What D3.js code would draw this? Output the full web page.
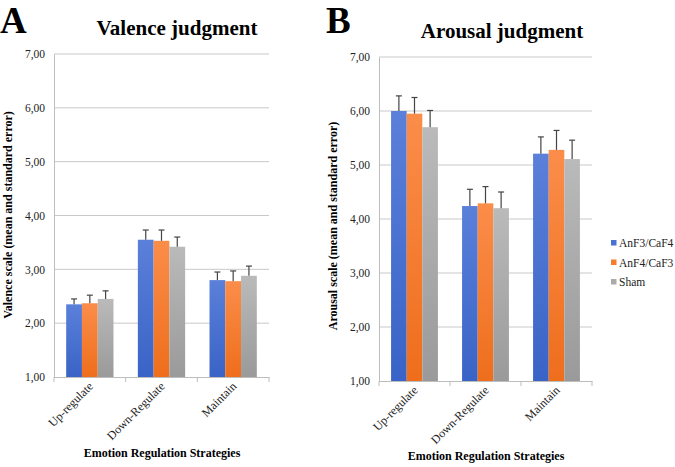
<!DOCTYPE html>
<html><head><meta charset="utf-8">
<script src="https://cdn.jsdelivr.net/npm/d3@7"></script>
<style>body{margin:0;background:#fff}svg{display:block}</style>
</head><body>
<svg id="c" width="675" height="467"></svg>
<script>
const categories = ["Up-regulate","Down-Regulate","Maintain"];
const seriesNames = ["AnF3/CaF4","AnF4/CaF3","Sham"];
const valenceMeans = [[2.35,2.37,2.45],[3.55,3.53,3.42],[2.80,2.78,2.88]];
const valenceErrTop = [[2.45,2.52,2.60],[3.73,3.73,3.60],[2.95,2.97,3.06]];
const arousalMeans = [[6.00,5.95,5.70],[4.24,4.29,4.20],[5.21,5.28,5.11]];
const arousalErrTop = [[6.28,6.25,6.01],[4.55,4.60,4.50],[5.52,5.64,5.46]];
const yTicks = [1,2,3,4,5,6,7];
const tickLabels = ["1,00","2,00","3,00","4,00","5,00","6,00","7,00"];

const FF = "'Liberation Serif', 'Times New Roman', serif";
const svg = d3.select("#c");
const defs = svg.append("defs");
const grads = [["#5b80da","#3963c6"],["#fb8d4a","#ee6e1c"],["#bababa","#9a9a9a"]];
grads.forEach((g,i)=>{
  const lg = defs.append("linearGradient").attr("id","g"+i).attr("x1",0).attr("y1",0).attr("x2",0).attr("y2",1);
  lg.append("stop").attr("offset","0%").attr("stop-color",g[0]);
  lg.append("stop").attr("offset","100%").attr("stop-color",g[1]);
});
const legendColors = ["#4a72d0","#f57d30","#ababab"];

function panel(o){
  const g = svg.append("g");
  const x0 = d3.scaleBand().domain(categories).range([o.left,o.right]).paddingInner(0.34).paddingOuter(0.17);
  const x1 = d3.scaleBand().domain(seriesNames).range([0,x0.bandwidth()]);
  const y = d3.scaleLinear().domain([1,7]).range([o.bottom,o.top]);
  g.selectAll(".grid").data(yTicks.slice(1)).join("line")
    .attr("x1",o.left).attr("x2",o.right).attr("y1",d=>y(d)).attr("y2",d=>y(d))
    .attr("stroke","#c9c9c9").attr("stroke-width",1);
  const ya = d3.axisLeft(y).tickValues(yTicks).tickFormat((d,i)=>tickLabels[i]).tickSize(0).tickPadding(9);
  const yg = g.append("g").attr("transform",`translate(${o.left},0)`).call(ya);
  yg.attr("font-family",null);
  yg.select(".domain").attr("stroke","#bdbdbd");
  yg.selectAll("text").attr("font-size",11.5).attr("fill","#222").style("font-family",FF);
  const bandStep = (o.right-o.left)/categories.length;
  const xa = d3.axisBottom(x0).tickSize(0).tickFormat("");
  const xg = g.append("g").attr("transform",`translate(0,${o.bottom})`).call(xa);
  xg.select(".domain").attr("stroke","#bdbdbd");
  xg.selectAll(".tick").remove();
  [0,1,2,3].forEach(i=>{
    xg.append("line").attr("x1",o.left+i*bandStep).attr("x2",o.left+i*bandStep).attr("y1",0).attr("y2",5).attr("stroke","#bdbdbd");
  });
  categories.forEach((c,ci)=>{
    seriesNames.forEach((s,si)=>{
      const bx = x0(c)+x1(s);
      const v = o.means[ci][si];
      g.append("rect").attr("x",bx).attr("y",y(v)).attr("width",x1.bandwidth()).attr("height",y(1)-y(v))
        .attr("fill",`url(#g${si})`);
      const cx = bx + x1.bandwidth()/2;
      const et = o.errTop[ci][si];
      g.append("line").attr("x1",cx).attr("x2",cx).attr("y1",y(v)).attr("y2",y(et)).attr("stroke","#444").attr("stroke-width",1.2);
      g.append("line").attr("x1",cx-3).attr("x2",cx+3).attr("y1",y(et)).attr("y2",y(et)).attr("stroke","#444").attr("stroke-width",1.2);
    });
    g.append("text").attr("transform",`translate(${x0(c)+x0.bandwidth()/2+4},${o.bottom+10}) rotate(-45)`)
      .attr("text-anchor","end").attr("font-size",12).attr("fill","#222").style("font-family",FF).text(c);
  });
  g.append("text").attr("x",o.letterX).attr("y",33).attr("font-size",37).attr("font-weight","bold").attr("fill","#000").style("font-family",FF).text(o.letter);
  g.append("text").attr("x",o.titleX).attr("y",o.titleY).attr("text-anchor","middle").attr("font-size",21).attr("font-weight","bold").attr("fill","#000").style("font-family",FF).text(o.title);
  g.append("text").attr("transform",`translate(${o.yTitleX},${o.yTitleY}) rotate(-90)`).attr("text-anchor","middle")
    .attr("font-size",12).attr("font-weight","bold").attr("fill","#000").style("font-family",FF).text(o.yTitle);
  g.append("text").attr("x",o.xTitleX).attr("y",o.xTitleY).attr("text-anchor","middle").attr("font-size",12).attr("font-weight","bold").attr("fill","#000").style("font-family",FF).text("Emotion Regulation Strategies");
}

panel({left:54,right:269,top:54,bottom:377,means:valenceMeans,errTop:valenceErrTop,letter:"A",letterX:0,
  title:"Valence judgment",titleX:177,titleY:35,yTitle:"Valence scale (mean and standard error)",yTitleX:12,yTitleY:215,xTitleX:162,xTitleY:457});
panel({left:379,right:592,top:57,bottom:381,means:arousalMeans,errTop:arousalErrTop,letter:"B",letterX:326,
  title:"Arousal judgment",titleX:502,titleY:38,yTitle:"Arousal scale (mean and standard error)",yTitleX:337,yTitleY:226,xTitleX:486,xTitleY:460});

const lg = svg.append("g");
seriesNames.forEach((s,i)=>{
  const ly = 243 + i*19.5;
  lg.append("rect").attr("x",611).attr("y",ly-3).attr("width",5.5).attr("height",5.5).attr("fill",legendColors[i]);
  lg.append("text").attr("x",619).attr("y",ly+4).attr("font-size",11.5).attr("fill","#222").style("font-family",FF).text(s);
});
</script>
</body></html>
